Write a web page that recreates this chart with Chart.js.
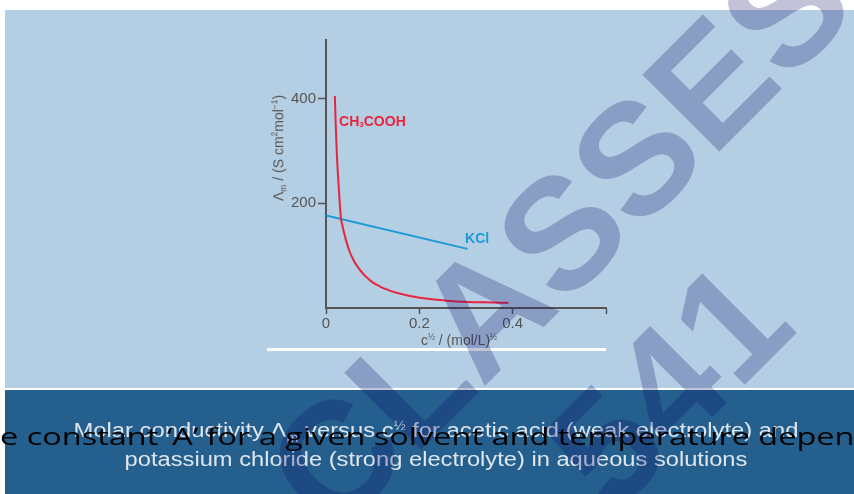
<!DOCTYPE html>
<html>
<head>
<meta charset="utf-8">
<script src="https://cdn.jsdelivr.net/npm/chart.js@4"></script>
<style>
  html, body { margin: 0; padding: 0; background: #fff; }
  #page { position: relative; width: 854px; height: 494px; overflow: hidden; background: #fff; font-family: "Liberation Sans", Arial, sans-serif; }
  #panel { position: absolute; left: 5px; top: 10px; width: 849px; height: 378px; background: #b4cee3; }
  #band { position: absolute; left: 5px; top: 390px; width: 849px; height: 104px; background: #245f8e; }
  #chart { position: absolute; left: 0; top: 0; }
  .txt { position: absolute; white-space: nowrap; }
  #ytitle { left: 279px; top: 148px; transform: translate(-50%, -50%) rotate(-90deg); font-size: 14px; color: #555; }
  #xtitle { left: 459px; top: 340px; transform: translate(-50%, -50%); font-size: 14px; color: #555; }
  sub, sup { font-size: 0.6em; }
  #rule { position: absolute; left: 267px; top: 348px; width: 339px; height: 3px; background: #fff; }
  .cap { left: 436px; color: #dfe6ee; font-size: 20px; transform-origin: center; }
  #cap1 { top: 432px; }
  #cap2 { top: 459px; }
  .wm { position: absolute; white-space: nowrap; font-weight: bold; font-size: 158px; color: rgba(12, 13, 104, 0.25); transform-origin: center; line-height: 1; }
  #over { left: 0; top: 436px; font-family: "Open Sans", sans-serif; font-size: 23px; color: #000; transform-origin: left center; }
</style>
</head>
<body>
<div id="page">
  <div id="panel"></div>
  <div id="band"></div>
  <canvas id="chart" width="854" height="494"></canvas>
  <div id="ytitle" class="txt">Λ<sub>m</sub> / (S cm<sup>2</sup>mol<sup>−1</sup>)</div>
  <div id="xtitle" class="txt">c<sup>½</sup> / (mol/L)<sup>½</sup></div>
  <div id="rule"></div>
  <div id="cap1" class="txt cap">Molar conductivity Λ<sub>m</sub> versus c<sup>½</sup> for acetic acid (weak electrolyte) and</div>
  <div id="cap2" class="txt cap">potassium chloride (strong electrolyte) in aqueous solutions</div>
  <div id="wm1" class="wm">CLASSES</div>
  <div id="wm2" class="wm">541</div>
  <div id="over" class="txt">e constant ‘A’ for a given solvent and temperature depen</div>
</div>
<script>
// values
const aceticX = [0.019, 0.0205, 0.022, 0.024, 0.027, 0.0295, 0.032, 0.035, 0.04, 0.045, 0.051, 0.058, 0.066,
                 0.08, 0.09, 0.1, 0.116, 0.13, 0.151, 0.18, 0.223, 0.26, 0.294, 0.34, 0.391];
const aceticY = [405, 360, 322, 280, 235, 200, 172, 158, 139, 123, 107, 93, 81,
                 65, 56.5, 49, 41, 35.5, 29, 23, 17, 14, 12, 10.8, 10];
const kclX = [0, 0.303];
const kclY = [177, 113];
const xTicks = [0, 0.2, 0.4, 0.6];
const xTickLabels = ['0', '0.2', '0.4', ''];
const yTicks = [200, 400];
const yTickLabels = ['200', '400'];

const axisGrey = '#555';
const red = '#e8253f';
const blue = '#1b9ad6';

function toPoints(xs, ys) {
    return xs.map((x, i) => ({ x: x, y: ys[i] }));
}

// series names written next to the curves
const curveLabels = {
    id: 'curveLabels',
    afterDatasetsDraw(chart) {
        const ctx = chart.ctx;
        const xs = chart.scales.x;
        const ys = chart.scales.y;
        const big = 'bold 14px "Liberation Sans", Arial, sans-serif';
        ctx.save();
        ctx.textBaseline = 'middle';
        ctx.font = big;
        ctx.fillStyle = red;
        let px = xs.getPixelForValue(0.028);
        let py = ys.getPixelForValue(356);
        ctx.fillText('CH', px, py);
        px += ctx.measureText('CH').width;
        ctx.font = 'bold 8px "Liberation Sans", Arial, sans-serif';
        ctx.fillText('3', px, py + 3);
        px += ctx.measureText('3').width;
        ctx.font = big;
        ctx.fillText('COOH', px, py);
        ctx.fillStyle = blue;
        ctx.fillText('KCl', xs.getPixelForValue(0.298), ys.getPixelForValue(132));
        ctx.restore();
    }
};

new Chart(document.getElementById('chart'), {
    type: 'scatter',
    data: {
        datasets: [{
            label: 'CH3COOH',
            data: toPoints(aceticX, aceticY),
            showLine: true,
            borderColor: red,
            borderWidth: 2,
            pointRadius: 0,
            cubicInterpolationMode: 'monotone'
        }, {
            label: 'KCl',
            data: toPoints(kclX, kclY),
            showLine: true,
            borderColor: blue,
            borderWidth: 2,
            pointRadius: 0
        }]
    },
    options: {
        responsive: false,
        animation: false,
        devicePixelRatio: 1,
        layout: { padding: { left: 266, top: 40, right: 248, bottom: 146 } },
        plugins: {
            legend: { display: false },
            tooltip: { enabled: false }
        },
        scales: {
            x: {
                type: 'linear',
                min: 0,
                max: 0.6,
                afterBuildTicks: s => { s.ticks = xTicks.map(v => ({ value: v })); },
                afterFit: s => { s.height = 40; },
                ticks: {
                    color: axisGrey,
                    font: { size: 15, family: '"Liberation Sans", Arial, sans-serif' },
                    padding: 1,
                    maxRotation: 0,
                    callback: (v, i) => xTickLabels[i]
                },
                grid: { drawOnChartArea: false, tickLength: 6, tickColor: axisGrey, tickWidth: 1.5 },
                border: { color: axisGrey, width: 2 }
            },
            y: {
                type: 'linear',
                min: 0,
                max: 512,
                afterBuildTicks: s => { s.ticks = yTicks.map(v => ({ value: v })); },
                afterFit: s => { s.width = 60; },
                ticks: {
                    color: axisGrey,
                    font: { size: 15, family: '"Liberation Sans", Arial, sans-serif' },
                    padding: 2,
                    callback: (v, i) => yTickLabels[i]
                },
                grid: { drawOnChartArea: false, tickLength: 8, tickColor: axisGrey, tickWidth: 1.5 },
                border: { color: axisGrey, width: 2 }
            }
        }
    },
    plugins: [curveLabels]
});

// fit the caption lines and the overlaid sentence to their widths in the picture
function fit(id, width, origin) {
    const el = document.getElementById(id);
    const k = width / el.offsetWidth;
    if (origin === 'left') {
        el.style.transform = 'translate(0, -50%) scaleX(' + k + ')';
    } else {
        el.style.transform = 'translate(-50%, -50%) scaleX(' + k + ')';
    }
}
fit('cap1', 725);
fit('cap2', 623);
fit('over', 854, 'left');

function place(id, cx, cy) {
    const el = document.getElementById(id);
    el.style.left = (cx - el.offsetWidth / 2) + 'px';
    el.style.top = (cy - el.offsetHeight / 2) + 'px';
    el.style.transform = 'rotate(-45deg)';
}
place('wm1', 558, 235);
place('wm2', 668, 384);
</script>
</body>
</html>
